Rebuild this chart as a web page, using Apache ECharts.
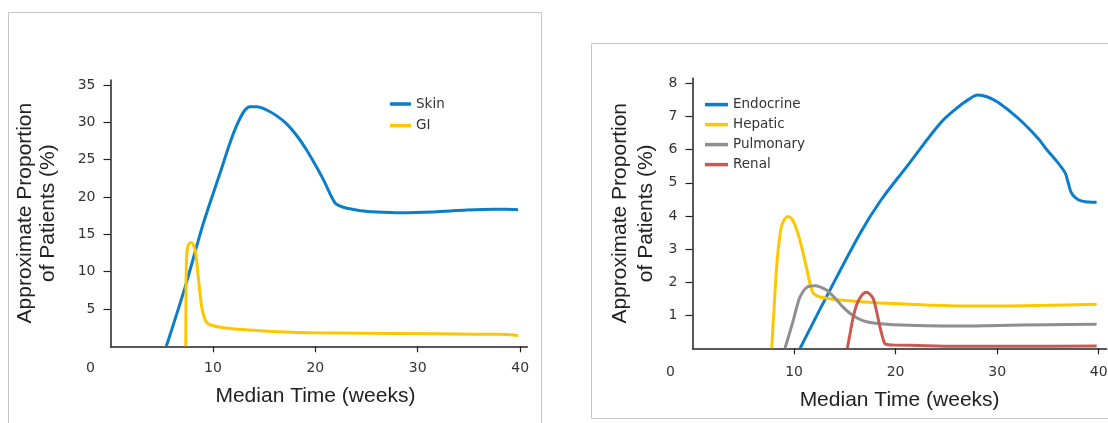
<!DOCTYPE html>
<html><head><meta charset="utf-8">
<script src="https://cdn.jsdelivr.net/npm/echarts@6/dist/echarts.min.js"></script>
<style>html,body{margin:0;padding:0;background:#fff}#c{width:1108px;height:423px}</style>
</head><body><div id="c"></div>
<script>
// ---- tick / label values ----
const xTicks = [10, 20, 30, 40];
const xLabels = [0, 10, 20, 30, 40];
const leftYTicks = [5, 10, 15, 20, 25, 30, 35];
const rightYTicks = [1, 2, 3, 4, 5, 6, 7, 8];
const leftSeriesNames = ['Skin', 'GI'];
const rightSeriesNames = ['Endocrine', 'Hepatic', 'Pulmonary', 'Renal'];
const xTitle = 'Median Time (weeks)';
const yTitle = 'Approximate Proportion\nof Patients (%)';

// ---- series values: [week, percent] ----
const skin = [[5.45,0],[7.3,8.0],[9.05,16.4],[10.7,23.2],[12.0,28.5],[13.0,31.4],[13.65,32.1],[14.3,32.1],[15.25,31.65],[16.2,30.9],[17.2,29.8],[18.2,28.2],[19.15,26.3],[20.0,24.3],[20.8,22.3],[21.9,19.25],[22.4,18.8],[23.1,18.48],[24.4,18.17],[26,18.0],[28.3,17.9],[31.5,18.0],[34.8,18.25],[37.5,18.35],[38.5,18.35],[39.8,18.3]];
const gi = [[7.35,0],[7.37,6],[7.42,11.5],[7.55,13.4],[7.86,13.9],[8.1,13.6],[8.3,12.6],[8.57,9.3],[8.9,5.3],[9.2,3.7],[9.45,3.1],[9.8,2.85],[10.7,2.55],[12.5,2.28],[14.6,2.08],[17,1.92],[19.5,1.82],[24.4,1.74],[31.5,1.67],[36,1.63],[38,1.6],[39,1.55],[39.8,1.42]];
const endocrine = [[10.6,0],[13.2,1.56],[16.5,3.47],[18.5,4.45],[21.1,5.49],[24.4,6.8],[26,7.25],[27.2,7.52],[28.1,7.65],[29,7.6],[30,7.45],[31.3,7.15],[32.6,6.8],[34,6.35],[34.9,6.0],[36.0,5.6],[36.7,5.3],[37.0,5.0],[37.3,4.7],[37.7,4.55],[38.2,4.46],[39,4.42],[39.8,4.41]];
const hepatic = [[7.8,0],[8.05,1.3],[8.29,2.47],[8.6,3.4],[8.9,3.8],[9.43,3.98],[9.8,3.9],[10.1,3.72],[10.5,3.35],[10.9,2.87],[11.25,2.4],[11.57,1.96],[11.9,1.66],[12.4,1.57],[13.2,1.51],[14.8,1.45],[16.5,1.41],[19.8,1.35],[23,1.31],[26.3,1.28],[30.1,1.28],[35,1.3],[39.8,1.33]];
const pulmonary = [[9.11,0],[9.5,0.4],[9.93,0.85],[10.3,1.28],[10.6,1.56],[11.25,1.84],[12.06,1.89],[12.6,1.85],[13.2,1.76],[13.7,1.62],[14.2,1.46],[14.8,1.25],[15.5,1.06],[16.3,0.9],[17.15,0.8],[18.5,0.74],[19.8,0.71],[23,0.68],[26.3,0.67],[30.1,0.69],[35,0.71],[39.8,0.73]];
const renal = [[15.25,0],[15.55,0.5],[15.83,0.95],[16.15,1.3],[16.5,1.53],[16.85,1.66],[17.15,1.69],[17.45,1.64],[17.8,1.5],[18.1,1.15],[18.46,0.65],[18.75,0.3],[18.96,0.14],[19.3,0.11],[19.77,0.1],[23,0.08],[26.3,0.06],[33,0.06],[39.8,0.07]];

const BLUE = '#0b7dc9', YELLOW = '#fcc700', GRAY = '#8f8f8f', RED = '#c95a52';
const INK = '#222', LBL = '#333';
const tickFont = { fontFamily: 'DejaVu Sans', fontSize: 14, color: LBL };

function xAxisCfg(gridIndex, max, zeroPad, labelMargin, nameGap, namePad) {
  return {
    type: 'value', gridIndex: gridIndex, min: 0, max: max,
    axisLine: { show: true, onZero: false, lineStyle: { color: INK, width: 1.5 } },
    axisTick: { show: true, customValues: xTicks, length: 6, lineStyle: { color: INK, width: 1.2 } },
    axisLabel: Object.assign({ customValues: xLabels, margin: labelMargin,
      formatter: function (v) { return v === 0 ? '{z|0}' : String(v); },
      rich: { z: Object.assign({ padding: [0, zeroPad, 0, 0] }, tickFont) } }, tickFont),
    splitLine: { show: false },
    name: xTitle, nameLocation: 'middle', nameGap: nameGap,
    nameTextStyle: { fontFamily: 'Liberation Sans', fontSize: 21, color: INK, padding: namePad }
  };
}
function yAxisCfg(gridIndex, max, ticks, nameGap, lh) {
  return {
    type: 'value', gridIndex: gridIndex, min: 0, max: max,
    axisLine: { show: true, onZero: false, lineStyle: { color: INK, width: 1.5 } },
    axisTick: { show: true, customValues: ticks, length: 7, lineStyle: { color: INK, width: 1.2 } },
    axisLabel: Object.assign({ customValues: ticks, margin: 15 }, tickFont),
    splitLine: { show: false },
    name: yTitle, nameLocation: 'middle', nameGap: nameGap,
    nameTextStyle: { fontFamily: 'Liberation Sans', fontSize: 21, lineHeight: lh, color: INK }
  };
}
function lineSeries(name, data, color, axisIdx) {
  return { type: 'line', name: name, data: data, xAxisIndex: axisIdx, yAxisIndex: axisIdx,
    symbol: 'none', showSymbol: false, smooth: 0.35, color: color,
    lineStyle: { color: color, width: 3 }, itemStyle: { color: color } };
}
const legendText = { fontFamily: 'DejaVu Sans', fontSize: 13.5, color: LBL };

const chart = echarts.init(document.getElementById('c'), null, { renderer: 'canvas' });
chart.setOption({
  animation: false,
  backgroundColor: '#fff',
  graphic: [
    { type: 'rect', silent: true, shape: { x: 8.5, y: 12.5, width: 533, height: 430 }, style: { fill: 'none', stroke: '#c8c8c8', lineWidth: 1 } },
    { type: 'rect', silent: true, shape: { x: 591.5, y: 43.5, width: 530, height: 375 }, style: { fill: 'none', stroke: '#c8c8c8', lineWidth: 1 } }
  ],
  grid: [
    { left: 110.5, top: 80, width: 416.8, height: 266.3, outerBoundsMode: 'none' },
    { left: 692.5, top: 78.3, width: 414.2, height: 270, outerBoundsMode: 'none' }
  ],
  xAxis: [xAxisCfg(0, 40.7, 40, 15, 39, [0, 7, 0, 0]), xAxisCfg(1, 40.79, 44, 17, 41, 0)],
  yAxis: [yAxisCfg(0, 35.67, leftYTicks, 51, 23), yAxisCfg(1, 8.157, rightYTicks, 33, 26.5)],
  legend: [
    { data: leftSeriesNames, orient: 'vertical', left: 390, top: 97, padding: 0, icon: 'rect',
      itemWidth: 21, itemHeight: 3.5, itemGap: 7.6, textStyle: legendText },
    { data: rightSeriesNames, orient: 'vertical', left: 705, top: 97.6, padding: 0, icon: 'rect',
      itemWidth: 23, itemHeight: 3.5, itemGap: 6, textStyle: legendText }
  ],
  series: [
    lineSeries('Skin', skin, BLUE, 0),
    lineSeries('GI', gi, YELLOW, 0),
    lineSeries('Endocrine', endocrine, BLUE, 1),
    lineSeries('Hepatic', hepatic, YELLOW, 1),
    lineSeries('Pulmonary', pulmonary, GRAY, 1),
    lineSeries('Renal', renal, RED, 1)
  ]
});
</script></body></html>
